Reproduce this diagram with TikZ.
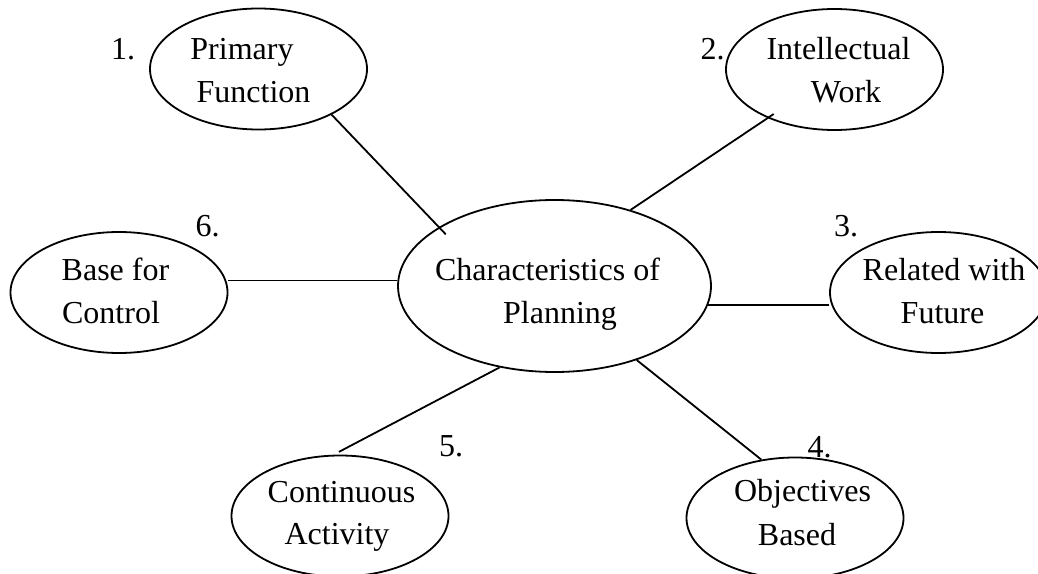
\documentclass[tikz,border=0pt]{standalone}
\usepackage{fontspec}
\setmainfont{Liberation Serif}
\usetikzlibrary{shapes.geometric}
\begin{document}
\begin{tikzpicture}[x=0.75pt,y=-0.75pt,
  bubble/.style={draw, ellipse, line width=1.35pt, minimum width=162.75pt,
                 minimum height=90.75pt, inner sep=0pt},
  hub/.style={bubble, minimum width=234.75pt, minimum height=129pt},
  word/.style={anchor=base, inner sep=0pt, font=\fontsize{24}{29}\selectfont},
  link/.style={line width=1.35pt}]
\fill[white] (0,0) rectangle (1038,574);
\useasboundingbox (0,0) rectangle (1038,574);

% ellipses
\node[hub]    (cp) at (554.5,286)   {};
\node[bubble] (pf) at (258.5,69)    {};
\node[bubble] (iw) at (834.5,69.5)  {};
\node[bubble] (rf) at (938.5,292.5) {};
\node[bubble] (ob) at (795,518)     {};
\node[bubble] (ca) at (340,516)     {};
\node[bubble] (bc) at (119,292.5)   {};

% centre label
\node[word] (cpa) at (547.5,280) {Characteristics of};
\node[word] (cpb) at (560,323)   {Planning};

% 1. Primary Function
\node[word] (n1)  at (123,60)    {1.};
\node[word] (pfa) at (242,60)    {Primary};
\node[word] (pfb) at (253.5,103) {Function};

% 2. Intellectual Work
\node[word] (n2)  at (712.5,60)  {2.};
\node[word] (iwa) at (838.5,60)  {Intellectual};
\node[word] (iwb) at (846,103)   {Work};

% 3. Related with Future
\node[word] (n3)  at (846,236)   {3.};
\node[word] (rfa) at (944,280)   {Related with};
\node[word] (rfb) at (942.5,323) {Future};

% 4. Objectives Based
\node[word] (n4)  at (819.5,457) {4.};
\node[word] (oba) at (802.5,501) {Objectives};
\node[word] (obb) at (797,545)   {Based};

% 5. Continuous Activity
\node[word] (n5)  at (451,456)   {5.};
\node[word] (caa) at (341.5,502) {Continuous};
\node[word] (cab) at (337,544)   {Activity};

% 6. Base for Control
\node[word] (n6)  at (207.5,236) {6.};
\node[word] (bca) at (115.5,280) {Base for};
\node[word] (bcb) at (111,323)   {Control};

% spokes
\draw[link, shorten >=-7.5pt] (pf.-32.3) -- (cp.153.8);
\draw[link, shorten >=-5.5pt] (cp.45.2) -- (iw.216.2);
\draw[link] (cp.-7.5) -- (rf.west |- cp.-7.5);
\draw[link] (cp.-42) -- (ob.120.5);
\draw[link, shorten >=4.5pt] (cp.236.4) -- (ca.96);
\draw[link] (cp.178.5) -- (bc.east |- cp.178.5);
\end{tikzpicture}
\end{document}
